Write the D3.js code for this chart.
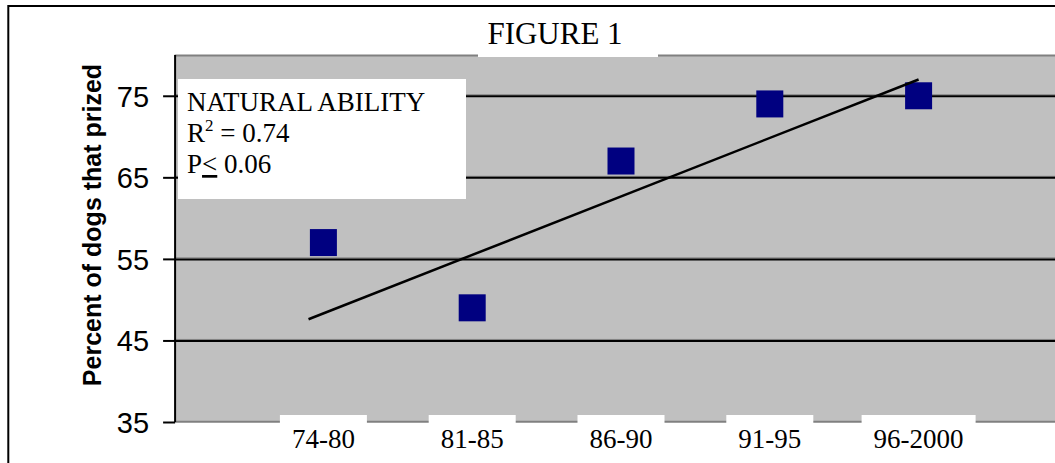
<!DOCTYPE html>
<html><head><meta charset="utf-8">
<script src="https://cdn.jsdelivr.net/npm/d3@7"></script>
<style>body{margin:0;background:#fff;} svg{display:block;}</style>
</head><body>
<svg id="chart" width="1055" height="463"></svg>
<script>
// ---- data ----
const categories = ["74-80", "81-85", "86-90", "91-95", "96-2000"];
const values = [57, 49, 67, 74, 75];
const yTicks = [35, 45, 55, 65, 75];
const trendX = [0.9, 5.0];
const trendY = [47.6, 77.0];
const titleText = "FIGURE 1";
const yTitle = "Percent of dogs that prized";
const legendTitle = "NATURAL ABILITY";
const rSquared = "0.74";
const pValue = "0.06";

const serif = "'Liberation Serif','Times New Roman',serif";
const sans = "'Liberation Sans',Arial,sans-serif";

const svg = d3.select("#chart");
const x = d3.scaleLinear().domain([0, 6]).range([174.6, 1067.4]);
const y = d3.scaleLinear().domain([35, 80]).range([422, 55]);

// outer border
svg.append("rect").attr("x", 8.3).attr("y", 6).attr("width", 1200).attr("height", 600)
  .attr("fill", "none").attr("stroke", "#000").attr("stroke-width", 2);

// plot background
svg.append("rect").attr("x", x(0)).attr("y", y(80)).attr("width", x(6) - x(0)).attr("height", y(35) - y(80))
  .attr("fill", "#c0c0c0");
svg.append("line").attr("x1", x(0)).attr("x2", x(6)).attr("y1", y(80) + 0.5).attr("y2", y(80) + 0.5)
  .attr("stroke", "#808080").attr("stroke-width", 2);

// gridlines
const grid = yTicks.filter(d => d > 35);
svg.append("g").selectAll("line.g1").data(grid).join("line")
  .attr("x1", x(0)).attr("x2", x(6)).attr("y1", d => y(d) - 1).attr("y2", d => y(d) - 1)
  .attr("stroke", "#808080").attr("stroke-width", 1);
svg.append("g").selectAll("line.g2").data(grid).join("line")
  .attr("x1", x(0)).attr("x2", x(6)).attr("y1", d => y(d) + 0.5).attr("y2", d => y(d) + 0.5)
  .attr("stroke", "#000").attr("stroke-width", 2);

// bottom axis line
svg.append("line").attr("x1", x(0)).attr("x2", x(6)).attr("y1", y(35) - 0.3).attr("y2", y(35) - 0.3)
  .attr("stroke", "#808080").attr("stroke-width", 2);

// y axis
const yAxis = d3.axisLeft(y).tickValues(yTicks).tickSize(12).tickPadding(14).tickFormat(d3.format("d"));
const yg = svg.append("g").attr("transform", `translate(${x(0) + 0.5},0)`).call(yAxis);
yg.select(".domain").attr("stroke", "#000").attr("stroke-width", 2).attr("d", `M0,${y(80)}V${y(35)}`);
yg.selectAll(".tick line").attr("stroke", "#000").attr("stroke-width", 2);
yg.selectAll(".tick text").attr("font-family", sans).attr("font-size", 29).attr("fill", "#000")
  .attr("dy", "0.36em");

// y title
svg.append("text").attr("transform", `translate(101,225) rotate(-90)`)
  .attr("text-anchor", "middle").attr("font-family", sans).attr("font-weight", "bold")
  .attr("font-size", 25).attr("fill", "#000").text(yTitle);

// points
const sq = 27;
svg.append("g").selectAll("rect").data(values).join("rect")
  .attr("x", (d, i) => x(i + 1) - sq / 2).attr("y", d => y(d) - sq / 2)
  .attr("width", sq).attr("height", sq).attr("fill", "#000080");

// trend line
svg.append("line").attr("x1", x(trendX[0])).attr("y1", y(trendY[0]))
  .attr("x2", x(trendX[1])).attr("y2", y(trendY[1]))
  .attr("stroke", "#000").attr("stroke-width", 2.5);

// legend box
svg.append("rect").attr("x", 178).attr("y", 79).attr("width", 288).attr("height", 120).attr("fill", "#fff");
const lg = svg.append("g").attr("font-family", serif).attr("font-size", 27).attr("fill", "#000");
lg.append("text").attr("x", 187).attr("y", 111).text(legendTitle);
const r2 = lg.append("text").attr("x", 187).attr("y", 142);
r2.append("tspan").text("R");
r2.append("tspan").attr("font-size", 17).attr("dy", -11).text("2");
r2.append("tspan").attr("dy", 11).text(" = " + rSquared);
const pt = lg.append("text").attr("x", 187).attr("y", 173);
pt.append("tspan").text("P");
pt.append("tspan").attr("text-decoration", "underline").text("<");
pt.append("tspan").text(" " + pValue);

// title
svg.append("rect").attr("x", 478).attr("y", 10).attr("width", 180).attr("height", 47).attr("fill", "#fff");
svg.append("text").attr("x", 555).attr("y", 44).attr("text-anchor", "middle")
  .attr("font-family", serif).attr("font-size", 31).attr("fill", "#000").text(titleText);

// x labels with white boxes
const xl = svg.append("g").selectAll("g").data(categories).join("g");
xl.append("rect").attr("fill", "#fff");
xl.append("text").attr("x", (d, i) => x(i + 1)).attr("y", 448).attr("text-anchor", "middle")
  .attr("font-family", serif).attr("font-size", 27).attr("fill", "#000").text(d => d);
xl.each(function () {
  const g = d3.select(this);
  const bb = g.select("text").node().getBBox();
  g.select("rect").attr("x", bb.x - 12).attr("y", 415).attr("width", bb.width + 24).attr("height", 60);
});
</script>
</body></html>
